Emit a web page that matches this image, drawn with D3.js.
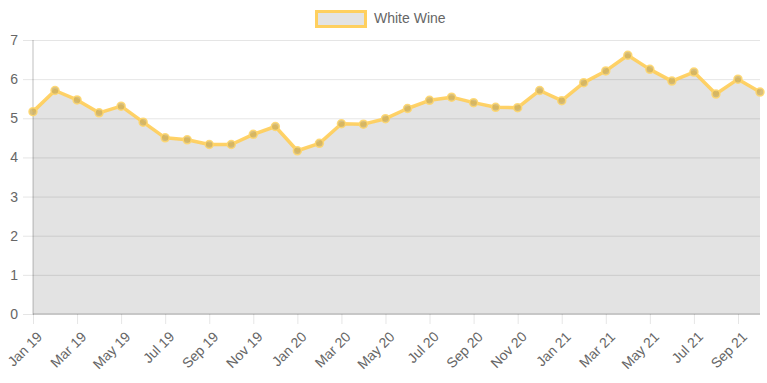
<!DOCTYPE html>
<html>
<head>
<meta charset="utf-8">
<script src="https://cdn.jsdelivr.net/npm/d3@7/dist/d3.min.js"></script>
<style>
  html, body { margin: 0; padding: 0; background: #fff; }
  svg { display: block; font-family: "Liberation Sans", Arial, Helvetica, sans-serif; }
</style>
</head>
<body>
<svg id="chart" width="767" height="383"></svg>
<script>
const months = ["Jan 19","Feb 19","Mar 19","Apr 19","May 19","Jun 19","Jul 19","Aug 19","Sep 19","Oct 19","Nov 19","Dec 19",
  "Jan 20","Feb 20","Mar 20","Apr 20","May 20","Jun 20","Jul 20","Aug 20","Sep 20","Oct 20","Nov 20","Dec 20",
  "Jan 21","Feb 21","Mar 21","Apr 21","May 21","Jun 21","Jul 21","Aug 21","Sep 21","Oct 21"];
const whiteWine = [5.17,5.71,5.47,5.14,5.31,4.90,4.50,4.45,4.33,4.33,4.59,4.79,
  4.17,4.36,4.86,4.85,4.99,5.25,5.46,5.54,5.40,5.28,5.27,5.71,
  5.45,5.91,6.21,6.61,6.25,5.95,6.18,5.62,6.00,5.67];
const yTicks = [0,1,2,3,4,5,6,7];
const seriesName = "White Wine";

const svg = d3.select("#chart");
const mLeft = 33, mRight = 760, mTop = 40, mBottom = 314;

const x = d3.scalePoint().domain(months).range([mLeft, mRight]);
const y = d3.scaleLinear().domain([0, 7]).range([mBottom, mTop]);

const grid = "rgba(0,0,0,0.1)";
const labelColor = "#666";

// horizontal gridlines + y axis
const yAxis = d3.axisLeft(y).tickValues(yTicks).tickSize(-(mRight - mLeft)).tickPadding(6).tickFormat(d3.format("d"));
const gy = svg.append("g").attr("transform", `translate(${mLeft},0)`).call(yAxis);
gy.select(".domain").remove();
gy.selectAll(".tick line").attr("stroke", grid).attr("x1", -10);
gy.selectAll(".tick text").attr("fill", labelColor).style("font-size", "14px").attr("x", -15)
  .style("font-family", "Liberation Sans, Arial, sans-serif");

// vertical gridlines + x axis (every other month labeled)
const shown = months.filter((d, i) => i % 2 === 0);
const xAxis = d3.axisBottom(x).tickValues(shown).tickSize(-(mBottom - mTop)).tickPadding(0);
const gx = svg.append("g").attr("transform", `translate(0,${mBottom})`).call(xAxis);
gx.select(".domain").remove();
gx.selectAll(".tick line").attr("stroke", grid).attr("y2", 10);
gx.selectAll(".tick text")
  .attr("fill", labelColor).style("font-size", "14px")
  .style("font-family", "Liberation Sans, Arial, sans-serif")
  .attr("text-anchor", "end")
  .attr("dy", null)
  .attr("transform", "translate(7,21) rotate(-45)")
  .attr("y", 0).attr("x", 0).attr("dominant-baseline", "middle");

// axis lines
svg.append("line").attr("x1", mLeft).attr("x2", mLeft).attr("y1", mTop).attr("y2", mBottom + 0.5)
  .attr("stroke", "rgba(0,0,0,0.25)");
svg.append("line").attr("x1", mLeft).attr("x2", mRight).attr("y1", mBottom).attr("y2", mBottom)
  .attr("stroke", "rgba(0,0,0,0.25)");

// area
const area = d3.area().x((d, i) => x(months[i])).y0(y(0)).y1(d => y(d));
svg.append("path").datum(whiteWine).attr("d", area).attr("fill", "rgba(0,0,0,0.11)");

// line
const line = d3.line().x((d, i) => x(months[i])).y(d => y(d));
svg.append("path").datum(whiteWine).attr("d", line)
  .attr("fill", "none").attr("stroke", "rgba(255,205,86,0.9)").attr("stroke-width", 3.5)
  .attr("stroke-linejoin", "round");

// points
svg.append("g").selectAll("circle").data(whiteWine).join("circle")
  .attr("cx", (d, i) => x(months[i])).attr("cy", d => y(d)).attr("r", 4)
  .attr("fill", "rgba(205,175,95,0.8)")
  .attr("stroke", "rgba(255,215,110,0.9)").attr("stroke-width", 1.5);

// legend
const lg = svg.append("g");
lg.append("rect").attr("x", 316.5).attr("y", 11.5).attr("width", 49).attr("height", 15)
  .attr("fill", "#e3e3e3").attr("stroke", "rgba(255,205,86,0.95)").attr("stroke-width", 3);
lg.append("text").attr("x", 374).attr("y", 19).attr("dominant-baseline", "middle")
  .attr("fill", labelColor).style("font-size", "14px").text(seriesName);
</script>
</body>
</html>
